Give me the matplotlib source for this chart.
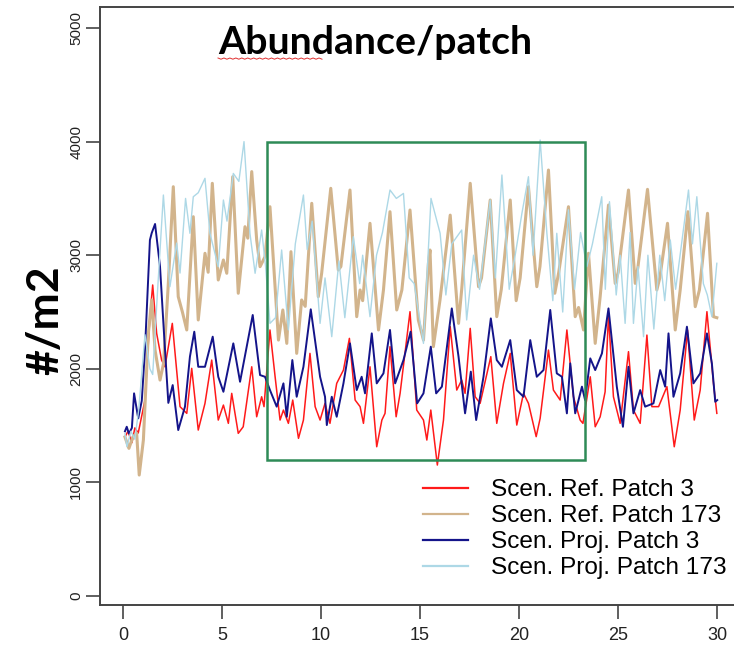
import matplotlib

matplotlib.use("Agg")
import matplotlib.pyplot as plt
import numpy as np
from matplotlib import patches

# time (years) and abundance (#/m2)
t_red = [
    0.10, 0.25, 0.45, 0.60, 0.77, 1.11, 1.36, 1.50, 1.70, 1.95,
    2.12, 2.49, 2.88, 3.22, 3.47, 3.80, 4.14, 4.48, 4.81, 5.07,
    5.32, 5.49, 5.82, 6.07, 6.50, 6.75, 7.00, 7.12, 7.42, 7.68,
    7.93, 8.10, 8.35, 8.57, 8.86, 9.11, 9.44, 9.70, 9.95, 10.20,
    10.45, 10.79, 11.13, 11.43, 11.72, 11.97, 12.14, 12.47, 12.81, 13.07,
    13.23, 13.48, 13.79, 13.99, 14.49, 14.83, 15.17, 15.34, 15.54, 15.87,
    16.18, 16.52, 16.85, 17.10, 17.27, 17.53, 17.78, 18.03, 18.57, 18.87,
    19.21, 19.55, 19.88, 20.22, 20.47, 20.86, 21.06, 21.48, 21.73, 22.07,
    22.41, 22.74, 23.08, 23.22, 23.59, 23.84, 24.09, 24.34, 24.51, 24.76,
    25.10, 25.52, 25.77, 26.11, 26.45, 26.70, 27.04, 27.46, 27.83, 28.13,
    28.50, 28.84, 29.14, 29.48, 29.81, 29.98,
]
v_red = [
    1400, 1450, 1350, 1480, 1435, 1725, 2459, 2738, 2312, 2077,
    2018, 2400, 1667, 1608, 2004, 1461, 1696, 2077, 1549, 1681,
    1520, 1784, 1432, 1490, 2018, 1578, 1754, 1667, 2342, 1930,
    1549, 1637, 1520, 1725, 1388, 1549, 2136, 1667, 1549, 1696,
    1520, 1872, 1989, 2268, 1725, 1667, 1520, 2018, 1314, 1549,
    1608, 2195, 1578, 1784, 2503, 1637, 1549, 1373, 1637, 1153,
    1549, 2371, 1813, 1901, 1784, 2356, 1754, 1696, 2107, 1520,
    1872, 2136, 1505, 1784, 1696, 1403, 1564, 2165, 1813, 1725,
    2342, 1754, 1549, 1520, 1930, 1490, 1578, 1798, 2474, 1754,
    1520, 2151, 1637, 1520, 2297, 1667, 1667, 1843, 1314, 1637,
    2342, 1549, 1813, 2503, 1872, 1608,
]

t_tan = [
    0.10, 0.30, 0.50, 0.69, 0.82, 1.03, 1.28, 1.45, 1.62, 1.87,
    2.05, 2.29, 2.54, 2.79, 3.00, 3.22, 3.55, 3.80, 4.14, 4.30,
    4.51, 4.81, 5.07, 5.24, 5.54, 5.82, 6.16, 6.30, 6.50, 6.75,
    6.92, 7.17, 7.42, 7.85, 8.07, 8.27, 8.48, 8.77, 9.02, 9.20,
    9.53, 9.86, 10.03, 10.49, 10.87, 11.00, 11.46, 11.80, 11.97, 12.10,
    12.47, 12.90, 13.15, 13.48, 13.82, 14.08, 14.49, 14.91, 15.17, 15.42,
    15.50, 15.67, 16.00, 16.52, 16.94, 17.10, 17.53, 17.95, 18.10, 18.54,
    18.87, 19.10, 19.55, 19.85, 20.05, 20.47, 20.89, 21.05, 21.48, 21.80,
    22.00, 22.49, 22.83, 23.00, 23.25, 23.50, 23.84, 24.09, 24.51, 24.85,
    25.00, 25.52, 25.86, 26.00, 26.48, 26.95, 27.10, 27.49, 27.88, 28.13,
    28.52, 28.89, 29.10, 29.51, 29.81, 29.98,
]
v_tan = [
    1400, 1300, 1400, 1435, 1065, 1373, 2312, 2606, 2165, 1901,
    2050, 2753, 3603, 2635, 2500, 2342, 3339, 2430, 3017, 2850,
    3633, 2782, 2958, 2841, 3691, 2665, 3251, 3150, 3736, 3134,
    2899, 2987, 3427, 2253, 2518, 2224, 3031, 2136, 2606, 2550,
    3457, 2635, 2841, 3589, 2870, 2900, 3574, 2459, 2694, 2600,
    3281, 2342, 2694, 3383, 2518, 2694, 3398, 2430, 2253, 2929,
    3046, 2195, 2600, 3353, 2400, 2700, 3633, 2723, 2800, 3486,
    2459, 2700, 3486, 2600, 2800, 3603, 2723, 2900, 3750, 2665,
    2850, 3427, 2459, 2540, 2342, 3017, 2224, 2635, 3442, 2752,
    2850, 3574, 2752, 2900, 3580, 2694, 2800, 3281, 2342, 2694,
    3383, 2547, 2694, 3369, 2459, 2450,
]

t_navy = [
    0.10, 0.19, 0.30, 0.45, 0.56, 0.77, 0.95, 1.11, 1.36, 1.45,
    1.62, 1.87, 2.07, 2.29, 2.51, 2.79, 3.13, 3.38, 3.60, 3.80,
    4.14, 4.53, 4.81, 5.07, 5.57, 5.91, 6.55, 6.92, 7.17, 7.42,
    7.76, 8.10, 8.27, 8.55, 8.77, 9.11, 9.48, 9.95, 10.20, 10.29,
    10.54, 10.79, 11.13, 11.46, 11.80, 12.05, 12.22, 12.56, 12.81, 13.15,
    13.48, 13.74, 14.16, 14.52, 14.85, 15.17, 15.54, 15.81, 16.10, 16.60,
    16.94, 17.27, 17.56, 17.83, 18.20, 18.57, 18.87, 19.13, 19.55, 19.88,
    20.22, 20.56, 20.89, 21.23, 21.57, 21.90, 22.16, 22.41, 22.58, 22.83,
    23.17, 23.33, 23.59, 23.84, 24.18, 24.51, 24.93, 25.24, 25.52, 25.77,
    26.11, 26.36, 26.78, 27.12, 27.37, 27.54, 27.79, 28.13, 28.47, 28.80,
    29.14, 29.48, 29.73, 29.90, 30.00,
]
v_navy = [
    1450, 1490, 1430, 1480, 1784, 1564, 1720, 2165, 3134, 3195,
    3275, 2900, 2315, 1700, 1857, 1461, 1667, 2107, 2327, 2018,
    2018, 2283, 1930, 1798, 2224, 1886, 2474, 1945, 1930, 1813,
    1667, 1872, 1578, 2077, 1754, 2018, 2524, 1930, 1754, 1505,
    1754, 1578, 1872, 2224, 1813, 1930, 1784, 2312, 1872, 1960,
    2342, 1872, 2077, 2327, 1696, 1784, 2195, 1784, 1843, 2532,
    2107, 1608, 1975, 1549, 1930, 2444, 2077, 2018, 2253, 1813,
    1754, 2253, 1930, 1989, 2518, 1960, 1930, 1608, 2048, 1608,
    1843, 1725, 2092, 1989, 2136, 2532, 1843, 1490, 2018, 1608,
    1813, 1667, 1696, 1989, 1843, 2312, 1754, 1960, 2371, 1872,
    1960, 2312, 2048, 1710, 1725,
]

t_lblue = [
    0.10, 0.20, 0.40, 0.60, 0.80, 1.11, 1.36, 1.50, 1.75, 2.04,
    2.37, 2.71, 2.88, 3.16, 3.38, 3.55, 3.80, 4.14, 4.39, 4.81,
    5.07, 5.25, 5.57, 5.85, 6.11, 6.41, 6.67, 7.00, 7.20, 7.42,
    7.70, 8.01, 8.35, 8.70, 9.11, 9.30, 9.55, 9.95, 10.20, 10.54,
    10.90, 11.20, 11.63, 11.95, 12.10, 12.47, 12.80, 13.10, 13.48, 13.80,
    14.16, 14.45, 14.70, 15.17, 15.55, 16.01, 16.30, 16.60, 17.10, 17.35,
    17.70, 18.00, 18.54, 18.80, 19.13, 19.50, 19.80, 20.14, 20.47, 20.70,
    21.06, 21.40, 21.70, 21.90, 22.20, 22.49, 22.80, 23.10, 23.42, 23.70,
    24.17, 24.35, 24.56, 24.90, 25.10, 25.35, 25.60, 25.77, 26.00, 26.28,
    26.50, 26.80, 27.10, 27.35, 27.63, 27.90, 28.20, 28.55, 28.75, 28.97,
    29.30, 29.50, 29.73, 29.98,
]
v_lblue = [
    1430, 1314, 1450, 1380, 1650, 2300, 2000, 1950, 2700, 3530,
    2723, 3107, 2843, 3500, 3193, 3515, 3550, 3677, 3193, 2899,
    3486, 3300, 3720, 3650, 4000, 3193, 2841, 3222, 2900, 2400,
    2450, 3046, 2342, 3100, 3530, 3050, 3300, 2400, 2800, 2283,
    2950, 2450, 3163, 2750, 3000, 2459, 3000, 3200, 3574, 3500,
    3544, 2800, 2750, 2224, 3500, 3193, 2650, 3100, 3222, 2430,
    3000, 2700, 3486, 2800, 3706, 2700, 3000, 3369, 3691, 3000,
    4014, 3193, 2600, 3193, 2500, 3400, 2700, 3200, 2899, 3100,
    3515, 2700, 3471, 2650, 3000, 2400, 3200, 2400, 2900, 2283,
    3000, 2350, 3000, 2600, 3134, 2700, 3100, 3574, 3100, 3515,
    2750, 2650, 2459, 2929,
]

labels = ["Scen. Ref. Patch 3", "Scen. Ref. Patch 173",
          "Scen. Proj. Patch 3", "Scen. Proj. Patch 173"]
x_ticks = [0, 5, 10, 15, 20, 25, 30]
y_ticks = [0, 1000, 2000, 3000, 4000, 5000]
# highlighted window (years, #/m2)
box_t = (7.27, 23.33)
box_v = (1200, 4000)

W, H = 734, 645
fig = plt.figure(figsize=(W / 100, H / 100), dpi=100)
ax = fig.add_axes([100 / W, 40 / H, 641 / W, 598 / H])

series = [
    (t_red, v_red, "#ff1a1a", 1.1),
    (t_tan, v_tan, "#d2b48c", 2.2),
    (t_navy, v_navy, "#14148a", 1.4),
    (t_lblue, v_lblue, "#add8e6", 1.0),
]
for (t, v, c, lw), lab in zip(series, labels):
    assert len(t) == len(v)
    ax.plot(t, v, color=c, lw=lw, label=lab)

ax.add_patch(patches.Rectangle((box_t[0], box_v[0]), box_t[1] - box_t[0], box_v[1] - box_v[0],
                               fill=False, edgecolor="#2e8b57", lw=1.8, zorder=5))

ax.set_xlim(-1.16, 31.2)
ax.set_ylim(-79, 5185)
ax.set_xticks(x_ticks)
ax.set_yticks(y_ticks)
ax.set_xticklabels([str(x) for x in x_ticks], fontsize=13, family="Liberation Sans", color="#222222")
ax.set_yticklabels([str(y) for y in y_ticks], fontsize=11, family="Liberation Sans",
                   rotation=90, va="center", color="#222222")
ax.tick_params(axis="both", length=10, width=1.2, color="#444444")
ax.tick_params(axis="x", pad=6)
ax.tick_params(axis="y", pad=2)
for side in ("left", "bottom", "top"):
    ax.spines[side].set_color("#444444")
    ax.spines[side].set_linewidth(1.4)
ax.spines["right"].set_visible(False)

leg = ax.legend(loc="upper left", bbox_to_anchor=(423 / W, 1 - 479 / H), bbox_transform=fig.transFigure,
                frameon=False, prop={"family": "Liberation Sans", "size": 17.6},
                handlelength=1.85, handletextpad=0.95, labelspacing=0.16, borderpad=0, borderaxespad=0)
for line in leg.get_lines():
    line.set_linewidth(1.6)

fig.text(375 / W, 1 - 43 / H, "Abundance/patch", ha="center", va="center",
         fontsize=28.3, fontweight="bold", family="Lato")
fig.text(45 / W, 1 - 320 / H, "#/m2", ha="center", va="center", rotation=90,
         fontsize=32, fontweight="bold", family="Lato")

# spell-check squiggle under "Abundance"
sx = np.linspace(218, 322, 36)
sy = 58 + 1.2 * (np.arange(36) % 2)
fig.add_artist(plt.Line2D(sx / W, 1 - sy / H, color="#e03030", lw=0.7))

fig.savefig("out.png", dpi=100)
